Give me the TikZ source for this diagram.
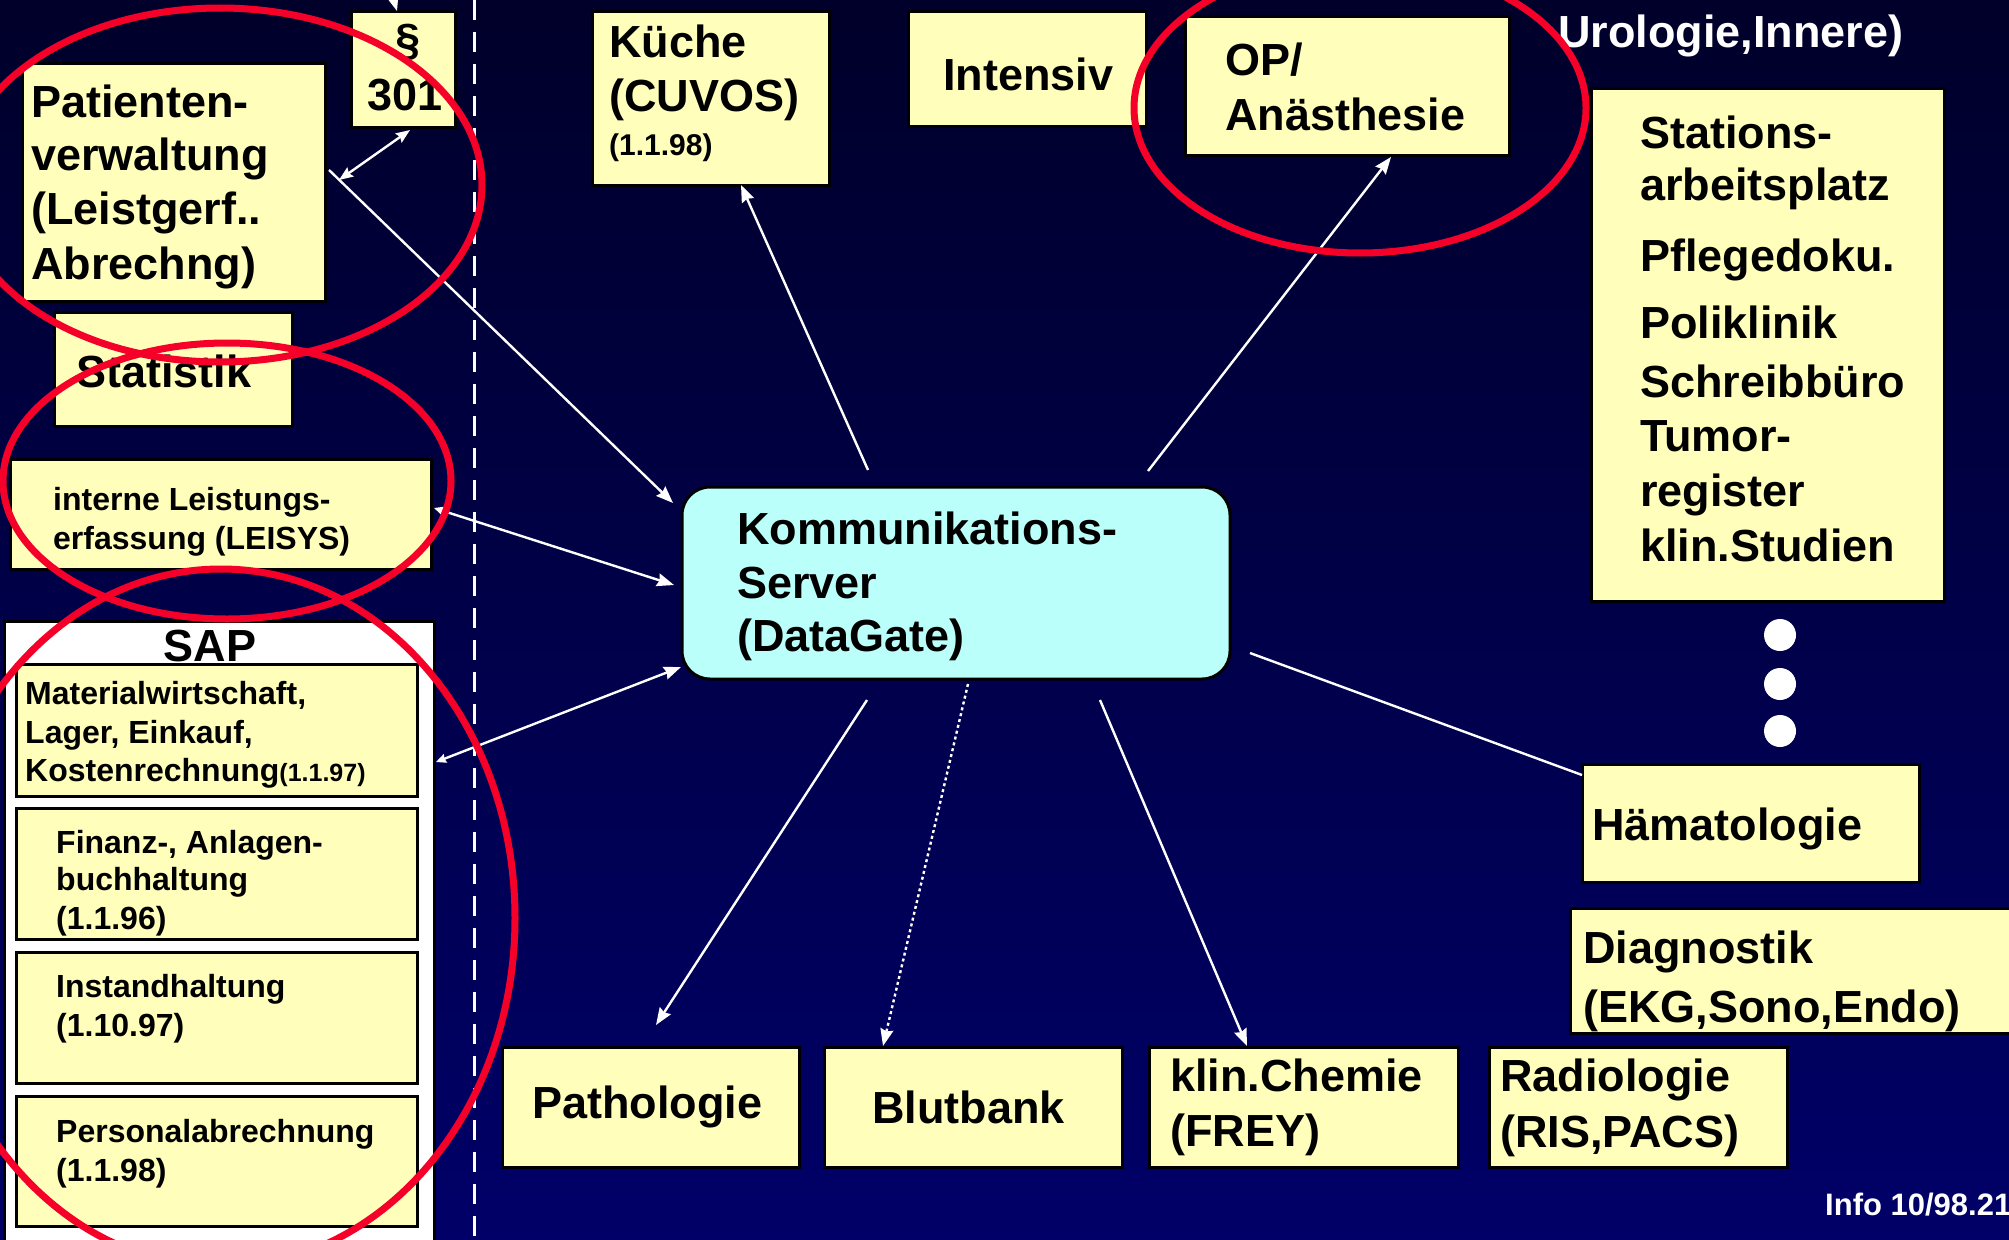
\documentclass[tikz,border=0pt]{standalone}
\usepackage{fontspec}
\setmainfont{Liberation Sans}
\usetikzlibrary{arrows.meta}
\definecolor{bgtop}{RGB}{0,0,42}
\definecolor{bgbot}{RGB}{0,0,104}
\definecolor{boxy}{RGB}{255,255,187}
\definecolor{srvc}{RGB}{187,255,250}
\definecolor{ringred}{RGB}{245,0,40}
\newcommand{\lineat}[5]{\node[txt, font=\fontsize{#4}{#4}\selectfont\bfseries] (#1) at (#2,#3) {#5};}
\begin{document}
\begin{tikzpicture}[x=1pt,y=-1pt,
  box/.style={draw=black, line width=3pt, fill=boxy, inner sep=0pt},
  txt/.style={anchor=base west, inner sep=0pt, text=black},
  wtxt/.style={anchor=base west, inner sep=0pt, text=white},
  conn/.style={draw=white, line width=2.4pt},
  arr/.style={conn, -{Stealth[length=17pt,width=13pt,inset=2pt]}},
  darr/.style={conn, {Stealth[length=10pt,width=9pt,inset=1pt]}-{Stealth[length=17pt,width=13pt,inset=2pt]}},
  parr/.style={conn, {Stealth[length=14pt,width=11pt,inset=2pt]}-{Stealth[length=14pt,width=11pt,inset=2pt]}},
  ring/.style={draw=ringred, line width=7pt}]
\useasboundingbox (0,0) rectangle (2009,1239);
\shade[top color=bgtop, bottom color=bgbot] (0,0) rectangle (2009,1239);
% dashed separator
\coordinate (dl1) at (474,0);
\coordinate (dl2) at (474,1239);
\draw[white, line width=3pt, dash pattern=on 20pt off 12pt] (dl1) -- (dl2);

% left column boxes
\node[box, minimum width=303pt, minimum height=237pt] (pat) at (173.5,182.5) {};
\node[box, minimum width=104pt, minimum height=115pt] (par) at (403,69.5) {};
\node[box, minimum width=238pt, minimum height=114pt] (stat) at (173,369) {};
\node[box, minimum width=421pt, minimum height=110pt] (leis) at (220.5,514) {};
\node[box, fill=white, minimum width=430pt, minimum height=640pt] (sapo) at (219,941) {};
\node[box, minimum width=401pt, minimum height=132pt] (mat) at (216.5,730) {};
\node[box, minimum width=401pt, minimum height=131pt] (fin) at (216.5,873.5) {};
\node[box, minimum width=401pt, minimum height=131pt] (ins) at (216.5,1017.5) {};
\node[box, minimum width=401pt, minimum height=130pt] (pers) at (216.5,1161) {};

% top row
\node[box, minimum width=237pt, minimum height=173pt] (kue) at (710.5,98.5) {};
\node[box, minimum width=238pt, minimum height=114pt] (int) at (1027,69) {};
\node[box, minimum width=324pt, minimum height=138pt] (op) at (1347,86) {};
\node[box, minimum width=353pt, minimum height=513pt] (sta) at (1767.5,344.5) {};

% server
\node[box, fill=srvc, rounded corners=28pt, minimum width=548pt, minimum height=192pt] (srv) at (956,583) {};

% right / bottom
\node[box, minimum width=337pt, minimum height=118pt] (hae) at (1750.5,823) {};
\node[box, minimum width=440pt, minimum height=125pt] (dia) at (1790,970.5) {};
\node[box, minimum width=297pt, minimum height=120pt] (path) at (650.5,1107) {};
\node[box, minimum width=298pt, minimum height=120pt] (blu) at (973,1107) {};
\node[box, minimum width=309pt, minimum height=120pt] (chem) at (1303.5,1107) {};
\node[box, minimum width=298pt, minimum height=120pt] (rad) at (1638,1107) {};

% dots
\fill[white] (1780,635) circle (16pt);
\fill[white] (1780,684) circle (16pt);
\fill[white] (1780,731) circle (16pt);

% texts
\lineat{t1}{31}{117}{45}{Patienten-}
\lineat{t2}{31}{170}{45}{verwaltung}
\lineat{t3}{31}{224}{45}{(Leistgerf..}
\lineat{t4}{31}{279}{45}{Abrechng)}
\node[anchor=base, inner sep=0pt, font=\fontsize{45}{45}\selectfont\bfseries] (t5) at (408,56) {§};
\node[anchor=base, inner sep=0pt, font=\fontsize{45}{45}\selectfont\bfseries] (t6) at (405,110) {301};
\lineat{t7}{76}{387}{45}{Statistik}
\lineat{t8}{53}{510}{32}{interne Leistungs-}
\lineat{t9}{53}{549}{32}{erfassung (LEISYS)}
\node[anchor=base, inner sep=0pt, font=\fontsize{45}{45}\selectfont\bfseries] (t10) at (210,661) {SAP};
\lineat{t11}{25}{704}{32}{Materialwirtschaft,}
\lineat{t12}{25}{743}{32}{Lager, Einkauf,}
\lineat{t13}{25}{781}{32}{Kostenrechnung{\fontsize{25}{25}\selectfont(1.1.97)}}
\lineat{t14}{56}{853}{32}{Finanz-, Anlagen-}
\lineat{t15}{56}{890}{32}{buchhaltung}
\lineat{t16}{56}{929}{32}{(1.1.96)}
\lineat{t17}{56}{997}{32}{Instandhaltung}
\lineat{t18}{56}{1036}{32}{(1.10.97)}
\lineat{t19}{56}{1142}{32}{Personalabrechnung}
\lineat{t20}{56}{1181}{32}{(1.1.98)}
\lineat{t21}{609}{58}{45}{Küche}
\lineat{t22}{609}{111}{45}{(CUVOS)}
\lineat{t23}{609}{155}{30}{(1.1.98)}
\lineat{t24}{943}{90}{45}{Intensiv}
\lineat{t25}{1225}{75}{45}{OP/}
\lineat{t26}{1225}{130}{45}{Anästhesie}
\node[wtxt, font=\fontsize{45}{45}\selectfont\bfseries] (t27) at (1558,48) {Urologie,Innere)};
\lineat{t28}{1640}{148}{45}{Stations-}
\lineat{t29}{1640}{200}{45}{arbeitsplatz}
\lineat{t30}{1640}{271}{45}{Pflegedoku.}
\lineat{t31}{1640}{338}{45}{Poliklinik}
\lineat{t32}{1640}{397}{45}{Schreibbüro}
\lineat{t33}{1640}{451}{45}{Tumor-}
\lineat{t34}{1640}{506}{45}{register}
\lineat{t35}{1640}{561}{45}{klin.Studien}
\lineat{t36}{737}{544}{45}{Kommunikations-}
\lineat{t37}{737}{598}{45}{Server}
\lineat{t38}{737}{651}{45}{(DataGate)}
\lineat{t39}{1592}{840}{45}{Hämatologie}
\lineat{t40}{1583}{963}{45}{Diagnostik}
\lineat{t41}{1583}{1022}{45}{(EKG,Sono,Endo)}
\lineat{t42}{532}{1118}{45}{Pathologie}
\lineat{t43}{872}{1123}{45}{Blutbank}
\lineat{t44}{1170}{1091}{45}{klin.Chemie}
\lineat{t45}{1170}{1146}{45}{(FREY)}
\lineat{t46}{1500}{1091}{45}{Radiologie}
\lineat{t47}{1500}{1147}{45}{(RIS,PACS)}
\node[wtxt, font=\fontsize{31}{31}\selectfont\bfseries] (t48) at (1825,1215) {Info 10/98.21};

% connector end points
\coordinate (c1s) at (329,170);  \coordinate (c1e) at (673,503);
\coordinate (c2s) at (339,180);  \coordinate (c2e) at (410,130);
\coordinate (c3s) at (434,508);  \coordinate (c3e) at (674,585);
\coordinate (c4s) at (436,762);  \coordinate (c4e) at (681,667);
\coordinate (c5s) at (868,470);  \coordinate (c5e) at (741,185);
\coordinate (c6s) at (1148,471); \coordinate (c6e) at (1391,157);
\coordinate (c7s) at (867,700);  \coordinate (c7e) at (656,1025);
\coordinate (c8s) at (968,684);  \coordinate (c8e) at (883,1046);
\coordinate (c9s) at (1100,700); \coordinate (c9e) at (1247,1046);
\coordinate (c10s) at (1250,653); \coordinate (c10e) at (1582,775);
\coordinate (c11s) at (385,-30); \coordinate (c11e) at (397,11);

\draw[arr] (c1s) -- (c1e);
\draw[parr] (c2s) -- (c2e);
\draw[darr] (c3s) -- (c3e);
\draw[darr] (c4s) -- (c4e);
\draw[arr] (c5s) -- (c5e);
\draw[arr] (c6s) -- (c6e);
\draw[arr] (c7s) -- (c7e);
\draw[arr, dash pattern=on 3pt off 3pt] (c8s) -- (c8e);
\draw[arr] (c9s) -- (c9e);
\draw[conn] (c10s) -- (c10e);
\draw[arr] (c11s) -- (c11e);

% red rings
\draw[ring] (220,185) ellipse [x radius=262pt, y radius=177pt];
\draw[ring] (227,481) ellipse [x radius=224pt, y radius=138pt];
\draw[ring] (221,918) ellipse [x radius=294pt, y radius=349pt];
\draw[ring] (1360,108) ellipse [x radius=226pt, y radius=145pt];
\end{tikzpicture}
\end{document}
